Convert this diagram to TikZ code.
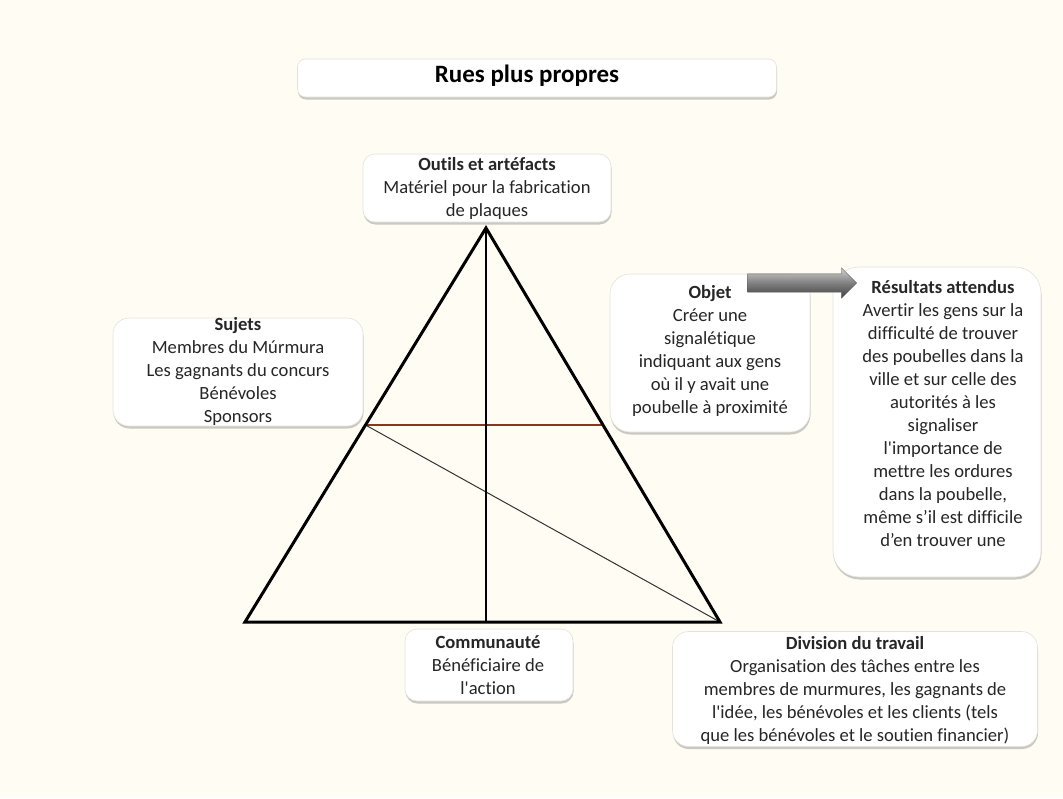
\documentclass[tikz,border=0pt]{standalone}
\usepackage{fontspec}
\setmainfont{Carlito}[Ligatures={TeXOff,CommonOff}]
\usetikzlibrary{shadows,shapes.arrows,calc}
\definecolor{bg}{HTML}{FFFDF3}
\definecolor{redline}{HTML}{8A3424}
\definecolor{boxline}{HTML}{E4E2DA}
\tikzset{
  panel/.style={draw=boxline, fill=white, rounded corners=12pt, line width=0.6pt,
    drop shadow={shadow xshift=0.5pt, shadow yshift=-2.5pt, opacity=0.35, fill=black!60}},
  txt/.style={align=center, inner sep=0pt, font=\fontsize{18.6}{23}\selectfont, text=black!85},
  heavy/.style={line width=3pt, line join=miter},
  thin/.style={line width=1.4pt},
}
\begin{document}
\begin{tikzpicture}[x=1pt,y=-1pt]
\fill[bg] (0,0) rectangle (1063,798);
\useasboundingbox (0,0) rectangle (1063,798);

% title
\node[panel, rounded corners=8pt, minimum width=479pt, minimum height=38pt] (titlebox) at (537,78) {};
\node[txt, font=\fontsize{25}{30}\selectfont\bfseries, text=black] (title) at (527,76) {Rues plus propres};

% boxes
\node[panel, minimum width=248pt, minimum height=68pt] (outilsbox) at (487,188) {};
\node[txt] (outils) at (487,188) {\textbf{Outils et artéfacts}\\Matériel pour la fabrication\\de plaques};

\node[panel, rounded corners=16pt, minimum width=250pt, minimum height=108pt] (sujetsbox) at (238,372) {};
\node[txt] (sujets) at (238,371) {\textbf{Sujets}\\Membres du Múrmura\\Les gagnants du concurs\\Bénévoles\\Sponsors};

\node[panel, rounded corners=20pt, minimum width=200pt, minimum height=158pt] (objetbox) at (710,353) {};
\node[txt] (objet) at (710,351) {\textbf{Objet}\\Créer une\\signalétique\\indiquant aux gens\\où il y avait une\\poubelle à proximité};

\node[panel, rounded corners=26pt, minimum width=208pt, minimum height=310pt] (resbox) at (937,422) {};
\node[txt] (res) at (943,414) {\textbf{Résultats attendus}\\Avertir les gens sur la\\difficulté de trouver\\des poubelles dans la\\ville et sur celle des\\autorités à les\\signaliser\\l'importance de\\mettre les ordures\\dans la poubelle,\\même s’il est difficile\\d’en trouver une};

\node[panel, minimum width=168pt, minimum height=72pt] (combox) at (489,665) {};
\node[txt] (com) at (488,665) {\textbf{Communauté}\\Bénéficiaire de\\l'action};

\node[panel, rounded corners=16pt, minimum width=365pt, minimum height=115pt] (divbox) at (855,689) {};
\node[txt] (div) at (855,690) {\textbf{Division du travail}\\Organisation des tâches entre les\\membres de murmures, les gagnants de\\l'idée, les bénévoles et les clients (tels\\que les bénévoles et le soutien financier)};

% arrow
\node[single arrow, minimum height=109pt, single arrow head extend=6pt, inner xsep=0pt, inner ysep=9pt,
  single arrow head indent=0pt, draw=black!65, line width=0.3pt,
  top color=gray!35, bottom color=black!75, middle color=black!50] (arr) at (797.5,283) {};

% triangle
\coordinate (A) at (486,228);
\coordinate (L) at (245,622);
\coordinate (R) at (720,622);
\coordinate (B) at (486,622);
\coordinate (ML) at ($(A)!0.5!(L)$);
\coordinate (MR) at ($(A)!0.5!(R)$);
\draw[redline, thin] (ML) -- (MR);
\draw[black!80, line width=1pt] (ML) -- (R);
\draw[black, thin] (A) -- (B);
\draw[heavy] (A) -- (L) -- (R) -- cycle;
\end{tikzpicture}
\end{document}
